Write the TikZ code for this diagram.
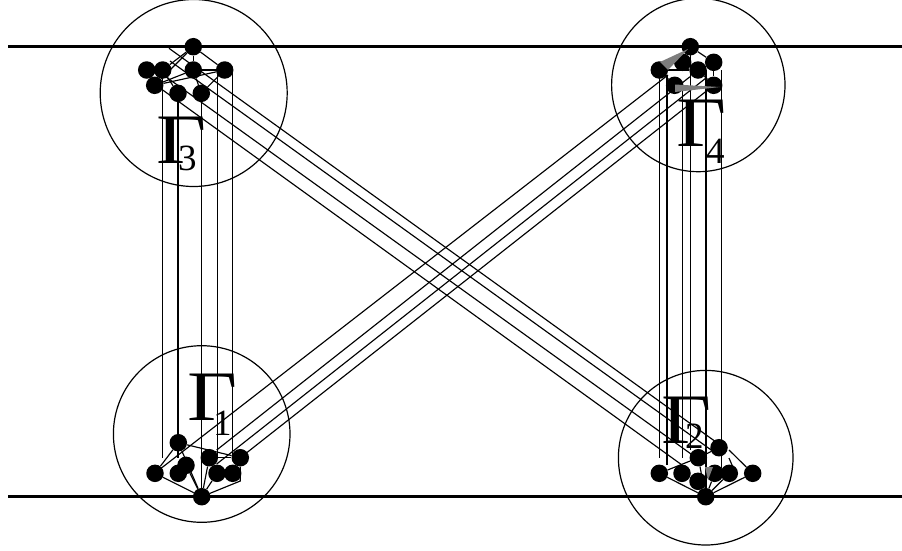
\documentclass[tikz,border=0pt]{standalone}
\usepackage{fontspec}
\setmainfont{Liberation Serif}
\usetikzlibrary{arrows.meta,calc,positioning}
\newcommand{\BigGam}{\scalebox{1.22}[1]{Γ}}
\tikzset{
  vtx/.style={circle,fill=black,inner sep=0pt,minimum size=17.5pt},
  wire/.style={line width=1.15pt},
  edgeline/.style={line width=1.15pt},
  rail/.style={line width=2.8pt},
  ring/.style={line width=1.2pt},
  bigG/.style={anchor=base west,inner sep=0pt,font=\fontsize{71}{71}\selectfont},
  subG/.style={anchor=base west,inner sep=0pt,font=\fontsize{37}{37}\selectfont}
}
\begin{document}
\begin{tikzpicture}[x=1pt,y=-1pt]
  \definecolor{wedgegray}{RGB}{125,125,125}
  \useasboundingbox (0,0) rectangle (902,550);

  % Rails
  \coordinate (railTL) at (8,46.7);
  \coordinate (railTR) at (902,46.7);
  \coordinate (railBL) at (8,496.7);
  \coordinate (railBR) at (902,496.7);
  \draw[rail] (railTL) -- (railTR);
  \draw[rail] (railBL) -- (railBR);

  % Big circles
  \draw[ring] (193.7,93) circle (93.5);
  \draw[ring] (698.3,85) circle (86.7);
  \draw[ring] (201.7,434) circle (88.3);
  \draw[ring] (705.7,457.7) circle (87.3);

  % Labels
  \node[bigG] (labG3) at (156.7,163.3) {\BigGam};
  \node[subG] (lab3) at (178,170) {3};
  \node[bigG] (labG4) at (676.7,146.7) {\BigGam};
  \node[subG] (lab4) at (706,163.3) {4};
  \node[bigG] (labG1) at (187.7,420) {\BigGam};
  \node[subG] (lab1) at (213,435) {1};
  \node[bigG] (labG2) at (661.7,443) {\BigGam};
  \node[subG] (lab2) at (685,448) {2};

  % Vertical strands on the left and on the right
  \foreach \i/\x/\ya/\yb in {1/162.7/70/458,2/178/93/458,3/201.5/93/490,4/217.2/70/458,5/232.7/70/458,
      6/659.3/70/457.7,7/667/75/465,8/682.7/85/458,9/690.3/55/450,10/706/70/490,11/721.3/70/468}{
    \coordinate (up\i) at (\x,\ya);
    \coordinate (dn\i) at (\x,\yb);
    \draw[wire] (up\i) -- (dn\i);
  }

  % Crossing strands
  \foreach \i/\xa/\ya/\xb/\yb in {1/169/48.3/716/442,2/170/61/714/452,3/162.7/74.5/698/459,4/162.7/90/682/465,
      5/155/473/668/75,6/216.7/450/690/76.7,7/216.7/464/706/78,8/240/458/713.7/85.3}{
    \coordinate (ca\i) at (\xa,\ya);
    \coordinate (cb\i) at (\xb,\yb);
    \draw[wire] (ca\i) -- (cb\i);
  }

  % Gamma 3
  \node[vtx] (t3) at (193.3,46.7) {};
  \node[vtx] (a3) at (146.7,70) {};
  \node[vtx] (b3) at (162.7,70) {};
  \node[vtx] (c3) at (193.3,70) {};
  \node[vtx] (d3) at (224.7,70) {};
  \node[vtx] (e3) at (154.7,85.3) {};
  \node[vtx] (f3) at (178,93.3) {};
  \node[vtx] (g3) at (201.3,93.3) {};
  \foreach \from/\to in {t3/b3,t3/e3,t3/c3,t3/d3,c3/d3,c3/g3,d3/g3,e3/d3,b3/f3,c3/e3}{
    \draw[edgeline] (\from) -- (\to);
  }

  % Gamma 4
  \node[vtx] (t4) at (690.3,46.7) {};
  \node[vtx] (a4) at (659.3,70) {};
  \node[vtx] (b4) at (682.7,62.3) {};
  \node[vtx] (c4) at (698,70) {};
  \node[vtx] (d4) at (713.7,62.3) {};
  \node[vtx] (e4) at (674.7,85.3) {};
  \node[vtx] (f4) at (713.7,85.3) {};
  \foreach \from/\to in {a4/c4,d4/f4,t4/d4,a4/e4,c4/f4}{
    \draw[edgeline] (\from) -- (\to);
  }
  \fill[wedgegray] (688,49) -- (660,62) -- (668,70) -- cycle;
  \fill[wedgegray] (675,84.5) -- (675,92) -- (720,87) -- cycle;

  % Gamma 1
  \node[vtx] (t1) at (178.3,442.7) {};
  \node[vtx] (a1) at (155,473.3) {};
  \node[vtx] (b1) at (178.3,473.3) {};
  \node[vtx] (h1) at (186,465.3) {};
  \node[vtx] (c1) at (209.3,457.7) {};
  \node[vtx] (d1) at (240.3,457.7) {};
  \node[vtx] (e1) at (217,473.3) {};
  \node[vtx] (f1) at (232.7,473.3) {};
  \node[vtx] (s1) at (201.7,496.7) {};
  \foreach \from/\to in {t1/a1,t1/d1,t1/s1,a1/s1,h1/s1,c1/d1,c1/s1,e1/s1,b1/h1}{
    \draw[edgeline] (\from) -- (\to);
  }
  \coordinate (k1) at (240.3,481);
  \draw[edgeline] (d1) -- (k1) -- (s1);

  % Gamma 2
  \node[vtx] (t2) at (719,447.7) {};
  \node[vtx] (m2) at (698.3,457.7) {};
  \node[vtx] (a2) at (659.3,473.3) {};
  \node[vtx] (b2) at (682,473.3) {};
  \node[vtx] (c2) at (698,481.3) {};
  \node[vtx] (d2) at (714.7,473.3) {};
  \node[vtx] (e2) at (729.3,473.3) {};
  \node[vtx] (f2) at (752.7,473.3) {};
  \node[vtx] (s2) at (705.7,496.7) {};
  \foreach \from/\to in {a2/m2,m2/t2,a2/s2,f2/s2,d2/s2,e2/s2,m2/s2}{
    \draw[edgeline] (\from) -- (\to);
  }
  \fill[wedgegray] (705,467) -- (713,467) -- (708,480) -- cycle;
  \coordinate (u2) at (729,450);
  \coordinate (v2) at (735,472);
  \coordinate (w2) at (729,458);
  \draw[edgeline] (u2) -- (f2);
  \draw[edgeline] (w2) -- (v2);
\end{tikzpicture}
\end{document}
